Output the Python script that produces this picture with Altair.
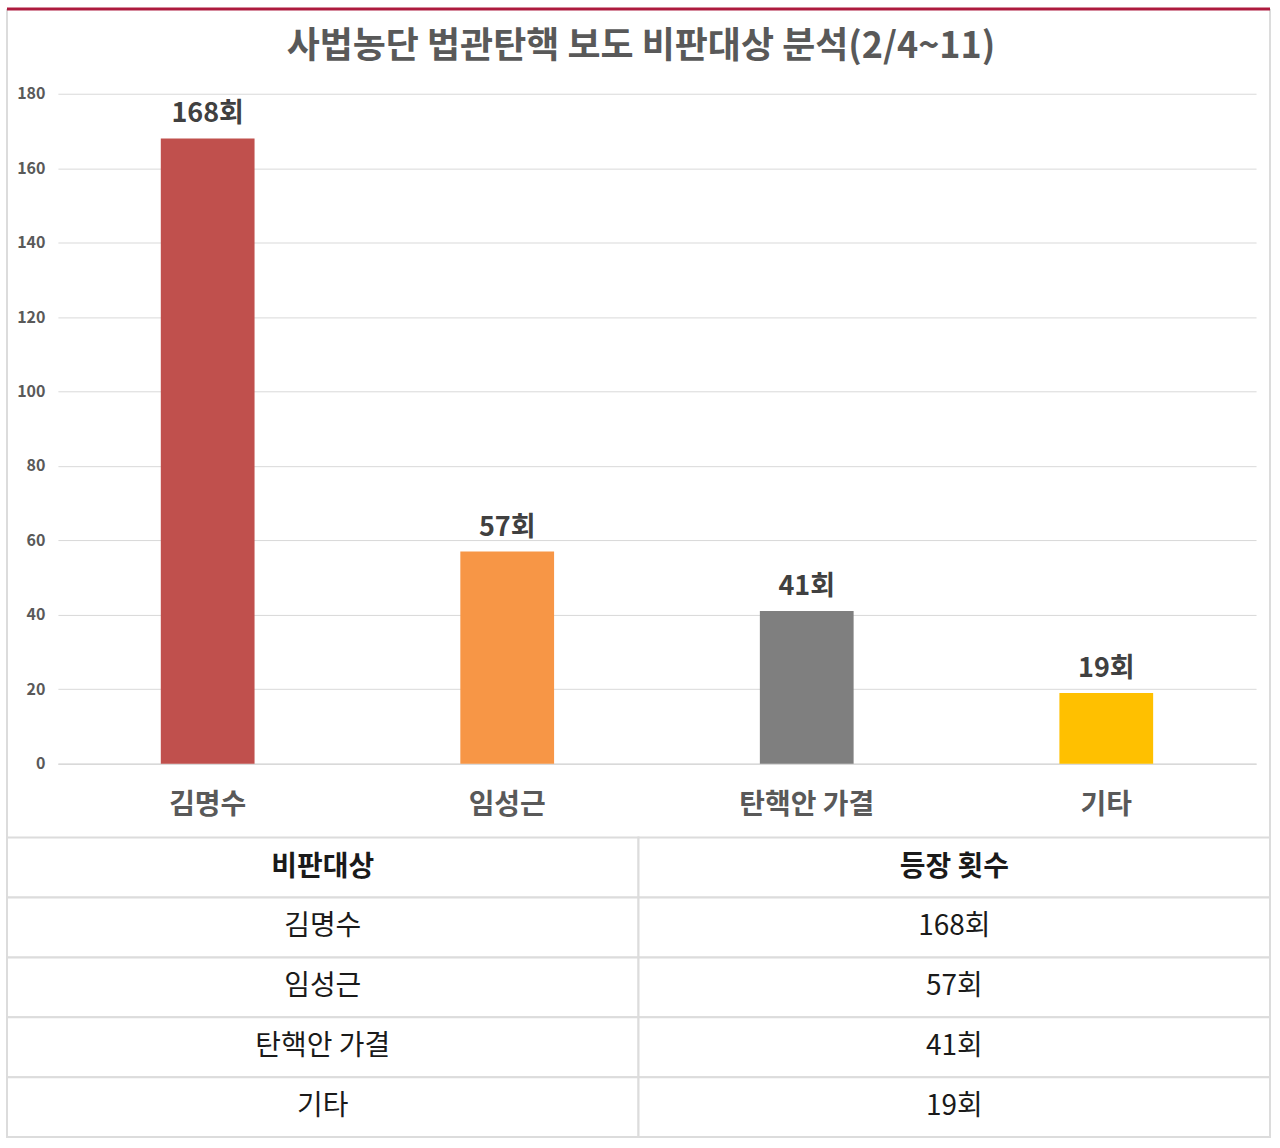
import altair as alt
import pandas as pd

FONT = "Noto Sans CJK KR"

title_text = "사법농단 법관탄핵 보도 비판대상 분석(2/4~11)"
categories = ["김명수", "임성근", "탄핵안 가결", "기타"]
counts = [168, 57, 41, 19]
bar_colors = ["#C0504D", "#F79646", "#7F7F7F", "#FFC000"]
count_labels = ["168회", "57회", "41회", "19회"]
y_ticks = [0, 20, 40, 60, 80, 100, 120, 140, 160, 180]
table_header = ["비판대상", "등장 횟수"]

bars_df = pd.DataFrame({"cat": categories, "n": counts, "label": count_labels})

GRID = "#d9d9d9"
FRAME = "#dcdcdc"
CRIMSON = "#AD1A3E"

x_scale = alt.Scale(paddingInner=0.687, paddingOuter=0.3435)
x_enc = alt.X(
    "cat:N",
    sort=categories,
    scale=x_scale,
    axis=alt.Axis(
        title=None, labelAngle=0, labelFont=FONT, labelFontSize=28,
        labelFontWeight="bold", labelColor="#595959", labelPadding=28,
        ticks=False, domainColor=GRID, domainWidth=1.5,
    ),
)
y_enc = alt.Y(
    "n:Q",
    scale=alt.Scale(domain=[0, 180], nice=False),
    axis=alt.Axis(
        title=None, values=y_ticks, domain=False, ticks=False,
        labelFont=FONT, labelFontSize=16, labelFontWeight="bold",
        labelColor="#595959", labelPadding=13, gridColor=GRID,
        gridWidth=1,
    ),
)

bars = alt.Chart(bars_df).mark_bar().encode(
    x=x_enc,
    y=y_enc,
    color=alt.Color("cat:N", sort=categories,
                    scale=alt.Scale(domain=categories, range=bar_colors),
                    legend=None),
)
bar_text = alt.Chart(bars_df).mark_text(
    font=FONT, fontSize=27, fontWeight="bold", color="#404040",
    baseline="bottom", dy=-10,
).encode(x=alt.X("cat:N", sort=categories), y="n:Q", text="label:N")

bar_chart = alt.layer(bars, bar_text).properties(
    width=1200, height=671,
    title=alt.TitleParams(
        title_text, font=FONT, fontSize=36, fontWeight="bold",
        color="#595959", anchor="middle", frame="group", offset=20, dx=-16,
    ),
    view=alt.ViewBackground(stroke=None),
)

# table data
rows = []
rows.append({"row": 0, "col": 0, "text": table_header[0], "head": 1})
rows.append({"row": 0, "col": 1, "text": table_header[1], "head": 1})
for i, (c, l) in enumerate(zip(categories, count_labels)):
    rows.append({"row": i + 1, "col": 0, "text": c, "head": 0})
    rows.append({"row": i + 1, "col": 1, "text": l, "head": 0})
table_df = pd.DataFrame(rows)

tx = alt.X("col:O", scale=alt.Scale(paddingInner=0, paddingOuter=0,
                                    range=[-51, 1214]), axis=None)
ty = alt.Y("row:O", scale=alt.Scale(paddingInner=0, paddingOuter=0), axis=None)

cells = alt.Chart(table_df).mark_rect(
    fill="white", stroke=FRAME, strokeWidth=2
).encode(x=tx, y=ty)
head_text = alt.Chart(table_df).transform_filter("datum.head == 1").mark_text(
    font=FONT, fontSize=28, fontWeight="bold", color="#1a1a1a"
).encode(x=tx, y=ty, text="text:N")
body_text = alt.Chart(table_df).transform_filter("datum.head == 0").mark_text(
    font=FONT, fontSize=28, fontWeight="normal", color="#1a1a1a"
).encode(x=tx, y=ty, text="text:N")
table_core = alt.layer(cells, head_text, body_text)

# decorative outer frame (normalised 0..1 frame scale spanning the whole card)
fx_scale = alt.Scale(domain=[0, 1], range=[-51, 1214])
fy_scale = alt.Scale(domain=[0, 1], range=[300, -830])
sides_df = pd.DataFrame({"fx": [0, 1], "fy0": [0, 0], "fy1": [1, 1]})
top_df = pd.DataFrame({"fx0": [0], "fx1": [1], "fy": [1]})

sides = alt.Chart(sides_df).mark_rule(color=FRAME, strokeWidth=2).encode(
    x=alt.X("fx:Q", scale=fx_scale, axis=None),
    y=alt.Y("fy0:Q", scale=fy_scale, axis=None),
    y2="fy1:Q",
)
top_line = alt.Chart(top_df).mark_rule(color=CRIMSON, strokeWidth=3).encode(
    x=alt.X("fx0:Q", scale=fx_scale, axis=None),
    x2="fx1:Q",
    y=alt.Y("fy:Q", scale=fy_scale, axis=None),
)
deco = alt.layer(sides, top_line)

table = alt.layer(table_core, deco).resolve_scale(
    x="independent", y="independent"
).properties(
    width=1200, height=300, view=alt.ViewBackground(stroke=None)
)

chart = alt.vconcat(bar_chart, table, spacing=74, bounds="flush").properties(
    padding={"left": 5, "top": 6, "right": 8, "bottom": 8},
    background="white",
).configure_view(stroke=None)

chart.save("out.html", embed_options={"renderer": "svg", "actions": False})
